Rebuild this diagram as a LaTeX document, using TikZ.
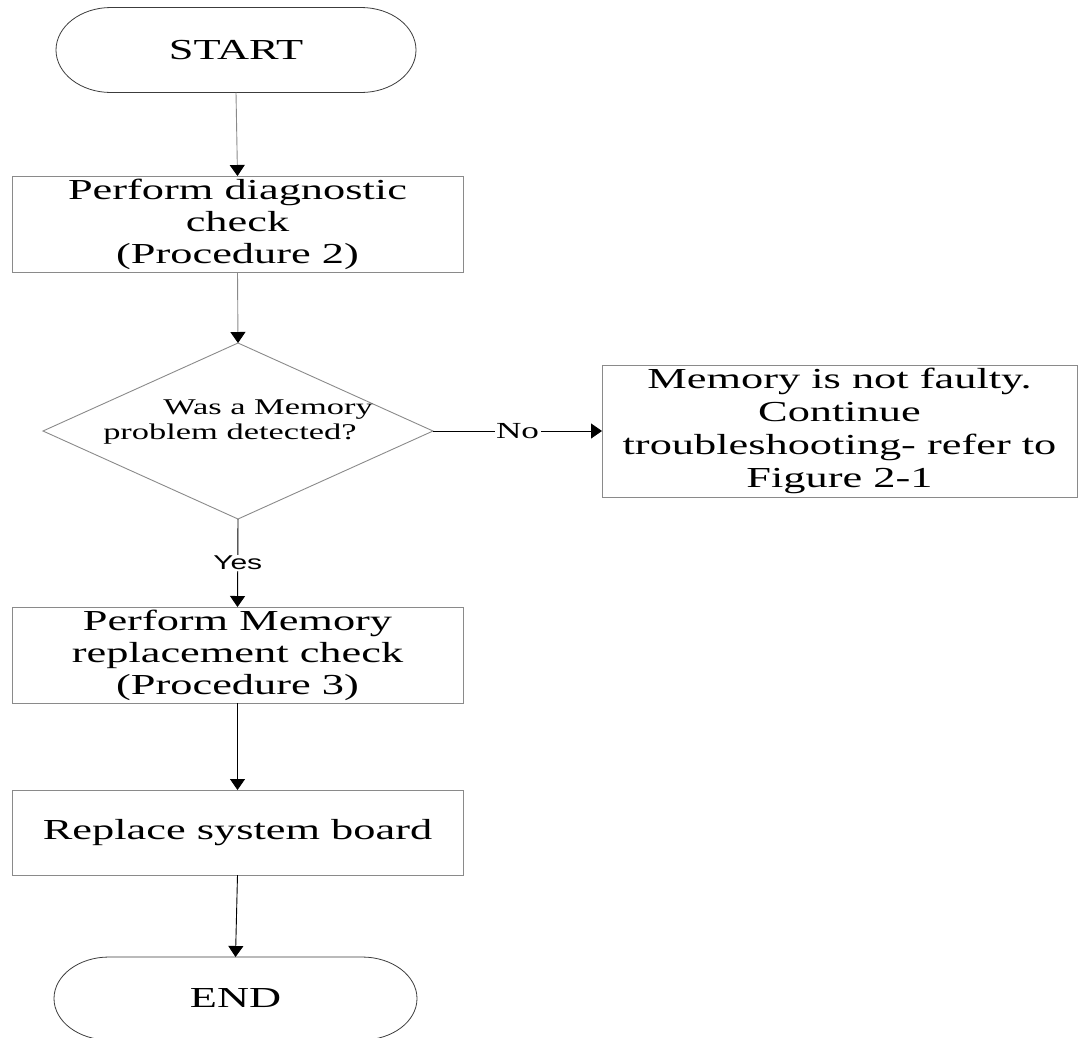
\documentclass[tikz,border=0pt]{standalone}
\usepackage{fontspec}
\setmainfont{Liberation Serif}[FakeStretch=1.53]
\newfontfamily\labelsans{Liberation Sans}[FakeStretch=1.5]
\usetikzlibrary{arrows.meta,shapes.geometric}
\definecolor{boxgray}{HTML}{8A8A8A}
\definecolor{termgray}{HTML}{3C3C3C}
\begin{document}
\begin{tikzpicture}[x=1pt,y=1pt,
  box/.style={draw=boxgray, line width=0.9pt, rectangle, align=center,
    font=\fontsize{29}{32}\selectfont, inner sep=0pt, outer sep=0pt},
  term/.style={rectangle, inner sep=0pt, outer sep=0pt,
    font=\fontsize{29}{32}\selectfont},
  termline/.style={draw=termgray, line width=0.8pt},
  decision/.style={diamond, draw=boxgray, line width=0.9pt, inner sep=0pt,
    outer sep=0pt, minimum width=390pt, minimum height=176pt},
  dtext/.style={align=left, font=\fontsize{22.5}{25}\selectfont},
  conn/.style={line width=0.9pt, -{Triangle[length=11pt,width=15pt,color=black]}},
  softconn/.style={conn, draw=boxgray},
  branch/.style={fill=white, inner sep=1.5pt},
]
\useasboundingbox (0,0) rectangle (1078,-1037);

% terminals and process boxes
\node[term, minimum width=360pt, minimum height=85pt] (start) at (236,-50) {START};
\draw[termline] ([xshift=55pt]start.north west) -- ([xshift=-55pt]start.north east)
  arc[start angle=90, end angle=-90, x radius=55pt, y radius=42.5pt]
  -- ([xshift=55pt]start.south west)
  arc[start angle=270, end angle=90, x radius=55pt, y radius=42.5pt] -- cycle;

\node[box, minimum width=451pt, minimum height=96pt] (diag) at (237.5,-224)
  {Perform diagnostic\\check\\(Procedure 2)};

\node[decision, label={[dtext, yshift=9pt]center:{\hspace*{60pt}Was a Memory\\problem detected?}}]
  (dia) at (238,-431) {};

\node[box, minimum width=475pt, minimum height=132pt,
  font=\fontsize{29}{33}\selectfont] (ok) at (839.5,-431)
  {Memory is not faulty.\\Continue\\troubleshooting- refer to\\Figure 2-1};

\node[box, minimum width=451pt, minimum height=96pt] (repl) at (237.5,-655)
  {Perform Memory\\replacement check\\(Procedure 3)};

\node[box, minimum width=451pt, minimum height=85pt] (board) at (237.5,-832.5)
  {Replace system board};

\node[term, minimum width=363pt, minimum height=83pt] (stop) at (235.5,-998.5) {END};
\draw[termline] ([xshift=55pt]stop.north west) -- ([xshift=-55pt]stop.north east)
  arc[start angle=90, end angle=-90, x radius=55pt, y radius=41.5pt]
  -- ([xshift=55pt]stop.south west)
  arc[start angle=270, end angle=90, x radius=55pt, y radius=41.5pt] -- cycle;

% connectors
\draw[softconn] (start.south) -- (diag.north);
\draw[softconn] (diag.south) -- (dia.north);
\draw[conn] (dia.east) -- node[branch, font=\fontsize{23}{25}\selectfont] (nolbl) {No} (ok.west);
\draw[conn] (dia.south) -- node[branch, font=\labelsans\fontsize{20}{22}\selectfont] (yeslbl) {Yes} (repl.north);
\draw[conn] (repl.south) -- (board.north);
\draw[conn] (board.south) -- (stop.north);
\end{tikzpicture}
\end{document}
